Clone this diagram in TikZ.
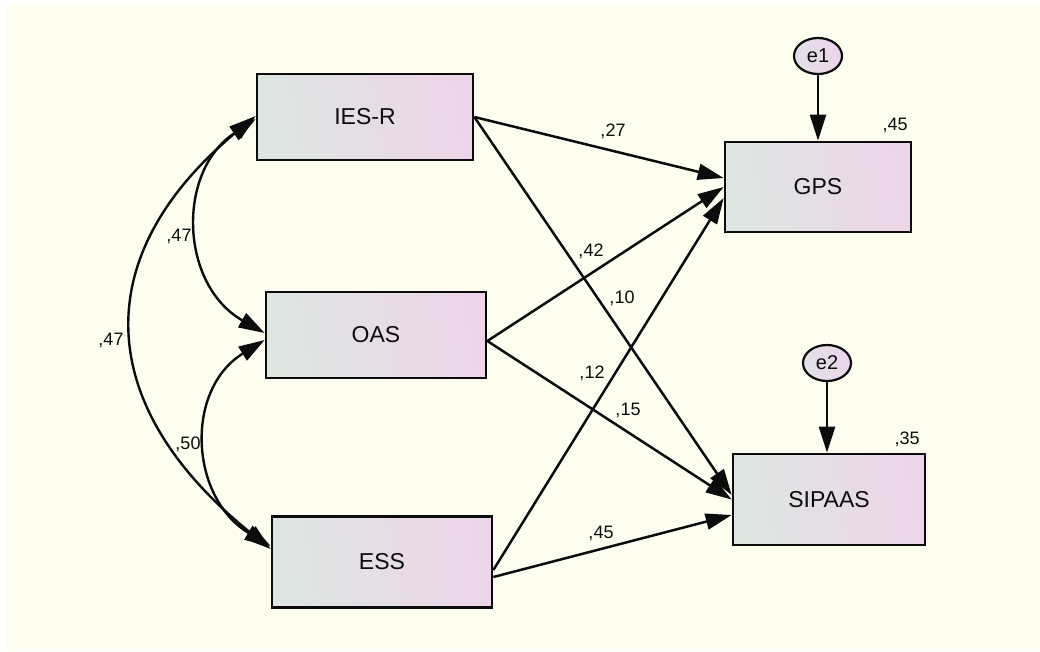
\documentclass[tikz,border=0pt]{standalone}
\usepackage{fontspec}
\setmainfont{Liberation Sans}
\usetikzlibrary{arrows.meta,shapes.geometric}
\definecolor{paper}{RGB}{254,254,240}
\definecolor{boxL}{RGB}{222,230,226}
\definecolor{boxR}{RGB}{237,213,233}
\definecolor{errL}{RGB}{226,226,232}
\definecolor{errR}{RGB}{236,212,234}
\definecolor{ink}{RGB}{12,12,12}
\begin{document}
\begin{tikzpicture}[x=1pt,y=-1pt,
  var/.style={draw=ink, line width=2.7pt, left color=boxL, right color=boxR,
    shading angle=100, inner sep=0pt, text=ink,
    font=\fontsize{23}{27}\selectfont},
  err/.style={ellipse, draw=ink, line width=2.2pt, left color=errL, right color=errR,
    shading angle=100, inner sep=0pt, minimum width=48pt, minimum height=36pt,
    text=ink, font=\fontsize{20}{24}\selectfont},
  tip/.tip={Triangle[length=26pt,width=16pt]},
  regpath/.style={draw=ink, line width=2.5pt, -tip},
  covpath/.style={draw=ink, line width=2.4pt, tip-tip},
  lab/.style={font=\fontsize{18}{21}\selectfont, text=ink, inner sep=0pt}]

% page background
\fill[white] (0,0) rectangle (1040,651);
\fill[paper] (6,4) rectangle (1040,651);
\useasboundingbox (0,0) rectangle (1040,651);

% observed variables
\node[var, minimum width=216pt, minimum height=86pt] (ies) at (365,117) {IES-R};
\node[var, minimum width=220pt, minimum height=86pt] (oas) at (376,335) {OAS};
\node[var, minimum width=220pt, minimum height=91pt] (ess) at (382,562) {ESS};
\node[var, minimum width=186pt, minimum height=90pt] (gps) at (818,187) {GPS};
\node[var, minimum width=192pt, minimum height=91pt] (sip) at (829,499.5) {SIPAAS};

% error terms
\node[err] (e1) at (818,56) {e1};
\node[err] (e2) at (827,363) {e2};

% error paths
\draw[regpath] (e1.south) -- (e1.south |- gps.north);
\draw[regpath] (e2.south) -- (e2.south |- sip.north);

% regression paths
\draw[regpath] (ies.east) -- ([yshift=9pt]gps.west);
\draw[regpath] (ies.east) -- ([yshift=4.5pt]sip.west);
\draw[regpath] ([yshift=-6pt]oas.east) -- (gps.west);
\draw[regpath] ([yshift=-6pt]oas.east) -- (sip.west);
\draw[regpath] ([yshift=-8pt]ess.east) -- ([yshift=-11pt]gps.west);
\draw[regpath] ([yshift=-15pt]ess.east) -- ([yshift=-15.5pt]sip.west);

% correlations
\draw[covpath] ([yshift=1pt]ies.west) .. controls (88,255) and (92,405) .. ([yshift=13pt]ess.west);
\draw[covpath] ([yshift=-2pt]ies.west) .. controls (176,172) and (180,285) .. ([yshift=2pt]oas.west);
\draw[covpath] ([yshift=-5pt]oas.west) .. controls (184,390) and (190,498) .. ([yshift=16pt]ess.west);

% estimates
\node[lab] (l27) at (613,131) {,27};
\node[lab] (l42) at (591,251) {,42};
\node[lab] (l10) at (622,298) {,10};
\node[lab] (l12) at (592,373) {,12};
\node[lab] (l15) at (628,410) {,15};
\node[lab] (l45b) at (601,533) {,45};
\node[lab] (r45) at (895,125) {,45};
\node[lab] (r35) at (907,439) {,35};
\node[lab] (c47a) at (179,236) {,47};
\node[lab] (c47b) at (111,340) {,47};
\node[lab] (c50) at (188,444) {,50};
\end{tikzpicture}
\end{document}
